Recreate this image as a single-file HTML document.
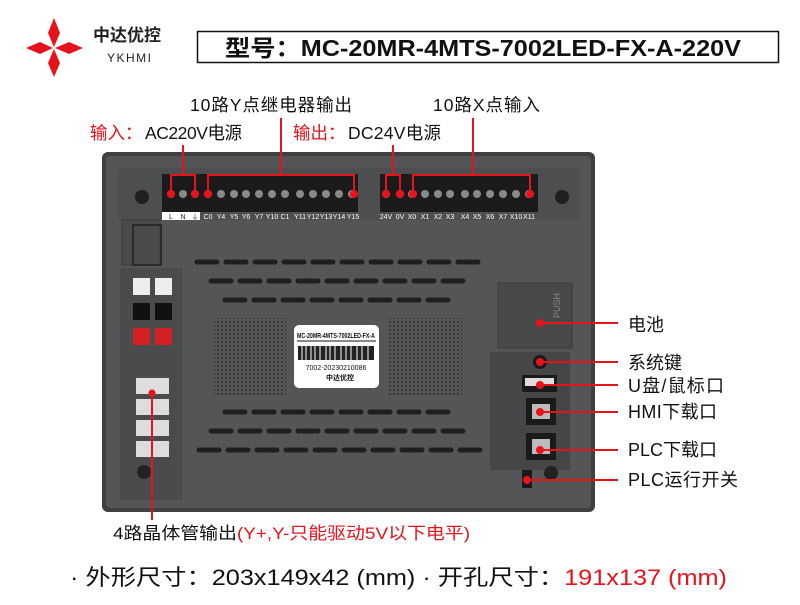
<!DOCTYPE html>
<html><head><meta charset="utf-8"><style>
body{margin:0;background:#fff;width:800px;height:600px;overflow:hidden}
text{font-family:"Liberation Sans","Noto Sans CJK SC",sans-serif}
</style></head><body>
<svg width="800" height="600" viewBox="0 0 800 600" xmlns="http://www.w3.org/2000/svg">
<defs>
<pattern id="dots" width="4" height="4" patternUnits="userSpaceOnUse"><circle cx="2" cy="2" r="1" fill="#2e2f31"/></pattern>
</defs>
<g fill="#e8121a">
<polygon points="54,18 60,33 54,47 48,33"/>
<polygon points="54,49 60,63 54,77 48,63"/>
<polygon points="26,48 40,42 53,48 40,54"/>
<polygon points="55,48 69,42 83,48 69,54"/>
</g>
<text x="93" y="41" font-size="17" font-weight="bold" fill="#222">中达优控</text>
<text x="107" y="62" font-size="12" fill="#222" letter-spacing="1.5">YKHMI</text>
<rect x="197.5" y="31.5" width="581" height="31" fill="none" stroke="#111" stroke-width="1.5"/>
<text x="225" y="56" font-size="23" font-weight="bold" fill="#111" textLength="516" lengthAdjust="spacingAndGlyphs">型号：MC-20MR-4MTS-7002LED-FX-A-220V</text>

<text x="190" y="111" font-size="17.5" fill="#111" textLength="162">10路Y点继电器输出</text>
<text x="433" y="111" font-size="17.5" fill="#111" textLength="107">10路X点输入</text>
<text x="90" y="139" font-size="17.5" fill="#e8121a">输入：</text>
<text x="145" y="139" font-size="17.5" fill="#111" textLength="97">AC220V电源</text>
<text x="293" y="139" font-size="17.5" fill="#e8121a">输出：</text>
<text x="348" y="139" font-size="17.5" fill="#111" textLength="93">DC24V电源</text>

<rect x="102" y="152" width="493" height="360" rx="6" fill="#3f4042"/>
<rect x="106" y="156" width="485" height="352" rx="4" fill="#545557"/>
<rect x="118" y="168" width="462" height="52" rx="3" fill="#4d4e50"/>
<rect x="120" y="268" width="62" height="232" fill="#4a4b4d"/>
<rect x="122" y="220" width="38" height="45" fill="#4a4b4d" stroke="#3a3b3d"/>
<rect x="133" y="225" width="28" height="40" fill="none" stroke="#2a2b2d" stroke-width="2"/>
<circle cx="142" cy="197" r="7" fill="#1e1f20"/>
<circle cx="562" cy="197" r="7" fill="#1e1f20"/>
<rect x="162" y="174" width="196" height="38" fill="#1b1b1c"/>
<rect x="380" y="174" width="158" height="38" fill="#1b1b1c"/>
<g fill="#8a8a8a">
<circle cx="171" cy="194" r="4"/><circle cx="183" cy="194" r="4"/><circle cx="195" cy="194" r="4"/><circle cx="208" cy="194" r="4"/><circle cx="221" cy="194" r="4"/><circle cx="234" cy="194" r="4"/><circle cx="246" cy="194" r="4"/><circle cx="259" cy="194" r="4"/><circle cx="272" cy="194" r="4"/><circle cx="285" cy="194" r="4"/><circle cx="300" cy="194" r="4"/><circle cx="313" cy="194" r="4"/><circle cx="326" cy="194" r="4"/><circle cx="339" cy="194" r="4"/><circle cx="352" cy="194" r="4"/>
<circle cx="386" cy="194" r="4"/><circle cx="400" cy="194" r="4"/><circle cx="412" cy="194" r="4"/><circle cx="425" cy="194" r="4"/><circle cx="438" cy="194" r="4"/><circle cx="450" cy="194" r="4"/><circle cx="465" cy="194" r="4"/><circle cx="477" cy="194" r="4"/><circle cx="490" cy="194" r="4"/><circle cx="503" cy="194" r="4"/><circle cx="516" cy="194" r="4"/><circle cx="529" cy="194" r="4"/>
</g>
<rect x="162" y="212" width="38" height="8" fill="#fff"/>
<g font-size="7" fill="#fff" text-anchor="middle">
<text x="171" y="219" fill="#222">L</text><text x="183" y="219" fill="#222">N</text><text x="195" y="219" fill="#222">⏚</text>
<text x="208" y="219">C0</text><text x="221" y="219">Y4</text><text x="234" y="219">Y5</text><text x="246" y="219">Y6</text><text x="259" y="219">Y7</text><text x="272" y="219">Y10</text><text x="285" y="219">C1</text><text x="300" y="219">Y11</text><text x="313" y="219">Y12</text><text x="326" y="219">Y13</text><text x="339" y="219">Y14</text><text x="353" y="219">Y15</text>
<text x="386" y="219">24V</text><text x="400" y="219">0V</text><text x="412" y="219">X0</text><text x="425" y="219">X1</text><text x="438" y="219">X2</text><text x="450" y="219">X3</text><text x="465" y="219">X4</text><text x="477" y="219">X5</text><text x="490" y="219">X6</text><text x="503" y="219">X7</text><text x="516" y="219">X10</text><text x="529" y="219">X11</text>
</g>
<g stroke="#1e1f20" stroke-width="5" stroke-linecap="round">
<path d="M197 262h20M226 262h20M255 262h20M284 262h20M313 262h20M342 262h20M371 262h20M400 262h20M429 262h20M458 262h20"/>
<path d="M211 281h20M240 281h20M269 281h20M298 281h20M327 281h20M356 281h20M385 281h20M414 281h20M443 281h20"/>
<path d="M225 300h20M254 300h20M283 300h20M312 300h20M341 300h20M370 300h20M399 300h20M428 300h20"/>
<path d="M225 412h20M254 412h20M283 412h20M312 412h20M341 412h20M370 412h20M399 412h20M428 412h20"/>
<path d="M211 431h20M240 431h20M269 431h20M298 431h20M327 431h20M356 431h20M385 431h20M414 431h20M443 431h20"/>
<path d="M199 450h20M228 450h20M257 450h20M286 450h20M315 450h20M344 450h20M373 450h20M402 450h20M431 450h20M460 450h20"/>
</g>
<rect x="214" y="318" width="72" height="78" fill="url(#dots)"/>
<rect x="388" y="318" width="74" height="78" fill="url(#dots)"/>
<rect x="294" y="325" width="85" height="63" rx="5" fill="#fff"/>
<text x="336" y="338" font-size="7" font-weight="bold" fill="#111" text-anchor="middle" textLength="78" lengthAdjust="spacingAndGlyphs">MC-20MR-4MTS-7002LED-FX-A</text>
<line x1="297" y1="341" x2="376" y2="341" stroke="#111"/>
<rect x="298" y="346" width="76" height="14" fill="#222"/>
<g stroke="#fff" stroke-width="1"><path d="M302 346v14M306 346v14M311 346v14M315 346v14M320 346v14M326 346v14M330 346v14M335 346v14M341 346v14M346 346v14M351 346v14M357 346v14M362 346v14M368 346v14"/></g>
<text x="336" y="370" font-size="7" fill="#111" text-anchor="middle">7002-20230210086</text>
<text x="340" y="380" font-size="7" font-weight="bold" fill="#111" text-anchor="middle">中达优控</text>
<rect x="133" y="278" width="17" height="17" fill="#eee"/><rect x="155" y="278" width="17" height="17" fill="#eee"/>
<rect x="133" y="303" width="17" height="17" fill="#111"/><rect x="155" y="303" width="17" height="17" fill="#111"/>
<rect x="133" y="328" width="17" height="17" fill="#d42020"/><rect x="155" y="328" width="17" height="17" fill="#d42020"/>
<rect x="136" y="378" width="33" height="16" fill="#ddd"/><rect x="136" y="399" width="33" height="16" fill="#ddd"/><rect x="136" y="420" width="33" height="16" fill="#ddd"/><rect x="136" y="441" width="33" height="16" fill="#ddd"/>
<circle cx="144" cy="472" r="7" fill="#222"/>
<rect x="498" y="283" width="74" height="65" fill="#48494b" stroke="#3a3b3d"/>
<text x="560" y="318" font-size="9" fill="#888" transform="rotate(-90 560 318)">PUSH</text>
<rect x="490" y="352" width="80" height="118" fill="#454648"/>
<circle cx="540" cy="362" r="7" fill="#1a1a1a"/>
<rect x="522" y="375" width="35" height="17" fill="#1a1a1a"/><rect x="525" y="378" width="29" height="8" fill="#ddd"/>
<rect x="526" y="398" width="30" height="27" fill="#1a1a1a"/><rect x="532" y="404" width="18" height="15" fill="#bbb"/>
<rect x="526" y="433" width="30" height="27" fill="#1a1a1a"/><rect x="532" y="439" width="18" height="15" fill="#bbb"/>
<rect x="522" y="470" width="10" height="18" fill="#1a1a1a"/>
<circle cx="551" cy="473" r="7" fill="#222"/>

<g stroke="#e8121a" stroke-width="2" fill="none">
<path d="M183 145V175M171 194V175H195V194"/>
<path d="M281 118V175M208 194V175H354V194"/>
<path d="M393 145V175M386 194V175H400V194"/>
<path d="M473 118V175M413 194V175H530V194"/>
<path d="M540 323H618M540 362H618M540 385H618M540 412H618M540 450H618M527 480H618"/>
<path d="M152 393V520"/>
</g>
<g fill="#e8121a">
<circle cx="171" cy="194" r="4"/><circle cx="195" cy="194" r="4"/><circle cx="208" cy="194" r="4"/><circle cx="354" cy="194" r="4"/>
<circle cx="386" cy="194" r="4"/><circle cx="400" cy="194" r="4"/><circle cx="413" cy="194" r="4"/><circle cx="530" cy="194" r="4"/>
<circle cx="540" cy="323" r="4"/><circle cx="540" cy="362" r="4"/><circle cx="540" cy="385" r="4"/><circle cx="540" cy="412" r="4"/><circle cx="540" cy="450" r="4"/><circle cx="527" cy="480" r="4"/><circle cx="152" cy="393" r="3.5"/>
</g>
<g font-size="18" fill="#111">
<text x="628" y="331" textLength="36">电池</text>
<text x="628" y="369" textLength="54">系统键</text>
<text x="628" y="392" textLength="96">U盘/鼠标口</text>
<text x="628" y="418" textLength="89">HMI下载口</text>
<text x="628" y="456" textLength="89">PLC下载口</text>
<text x="628" y="486" textLength="110">PLC运行开关</text>
</g>
<text x="113" y="539" font-size="17" fill="#111" textLength="357" lengthAdjust="spacingAndGlyphs">4路晶体管输出<tspan fill="#e8121a">(Y+,Y-只能驱动5V以下电平)</tspan></text>
<text x="70" y="585" font-size="22" fill="#111" textLength="657" lengthAdjust="spacingAndGlyphs">· 外形尺寸：203x149x42 (mm)  · 开孔尺寸：<tspan fill="#e8121a">191x137 (mm)</tspan></text>
</svg>
</body></html>
